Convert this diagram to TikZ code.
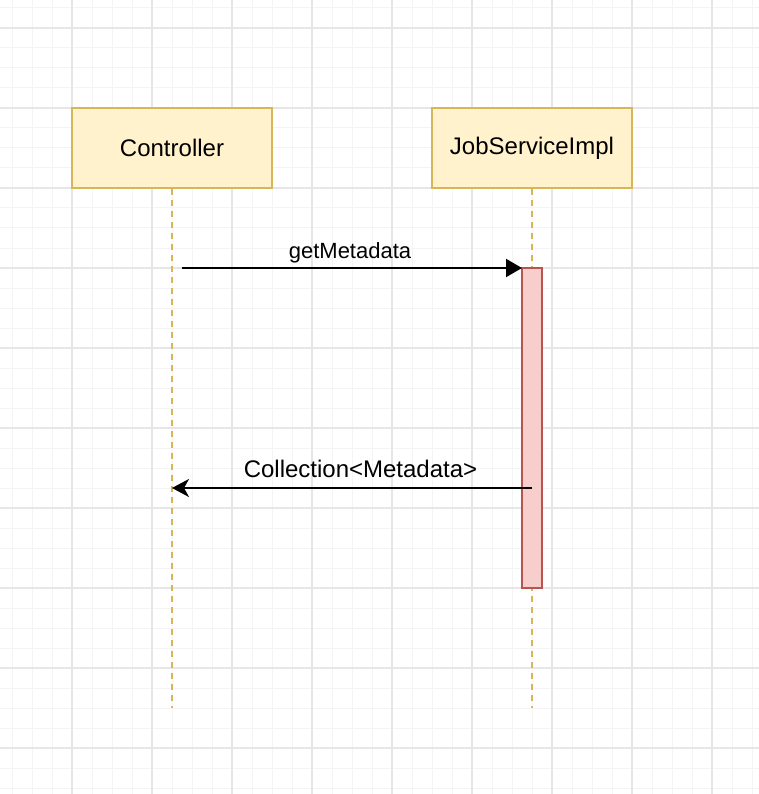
\documentclass[tikz,border=0pt]{standalone}
\usepackage{fontspec}
\setmainfont{Liberation Sans}
\usetikzlibrary{arrows.meta}
\definecolor{gridmajor}{HTML}{E6E6E6}
\definecolor{gridminor}{HTML}{F4F4F4}
\definecolor{lifefill}{HTML}{FFF2CC}
\definecolor{lifedraw}{HTML}{D6B656}
\definecolor{actfill}{HTML}{F8CECC}
\definecolor{actdraw}{HTML}{B85450}
\tikzset{
  lifebox/.style={draw=lifedraw, fill=lifefill, line width=1.6pt, minimum width=200pt, minimum height=80pt, inner sep=0pt, font=\fontsize{24}{28}\selectfont},
  actbox/.style={draw=actdraw, fill=actfill, line width=1.6pt, minimum width=20pt, minimum height=320pt, inner sep=0pt},
  lifeline/.style={draw=lifedraw, line width=1.6pt, dash pattern=on 6pt off 5pt},
  msg/.style={draw=black, line width=1.8pt, -{Triangle[length=16pt,width=18pt]}},
  reply/.style={draw=black, line width=1.8pt, -{Stealth[length=17pt,width=18pt,inset=5pt]}},
  msglbl/.style={inner sep=0pt, anchor=base},
}
\begin{document}
\begin{tikzpicture}[x=1pt,y=-1pt]
\fill[white] (0,0) rectangle (759,794);
\useasboundingbox (0,0) rectangle (759,794);
% grid
\foreach \x in {12,32,...,752} \draw[gridminor, line width=1pt] (\x,0) -- (\x,794);
\foreach \y in {8,28,...,788} \draw[gridminor, line width=1pt] (0,\y) -- (759,\y);
\foreach \x in {72,152,...,752} \draw[gridmajor, line width=1.2pt] (\x,0) -- (\x,794);
\foreach \y in {28,108,...,788} \draw[gridmajor, line width=1.2pt] (0,\y) -- (759,\y);
% lifelines
\node[lifebox] (ctrl) at (172,148) {Controller};
\node[lifebox] (job) at (532,148) {JobServiceImpl};
\coordinate (ctrlend) at (172,708);
\coordinate (jobend) at (532,708);
\draw[lifeline] (ctrl.south) -- (ctrlend);
\draw[lifeline] (job.south) -- (jobend);
% activation
\node[actbox] (act) at (532,428) {};
% messages
\coordinate (m1start) at (182,268);
\coordinate (m1end) at (522,268);
\draw[msg] (m1start) -- (m1end);
\node[msglbl, font=\fontsize{22}{26}\selectfont] (l1) at (350,258) {getMetadata};
\coordinate (m2start) at (532,488);
\coordinate (m2end) at (172,488);
\draw[reply] (m2start) -- (m2end);
\node[msglbl, font=\fontsize{24}{28}\selectfont] (l2) at (360.5,477) {Collection<Metadata>};
\end{tikzpicture}
\end{document}
